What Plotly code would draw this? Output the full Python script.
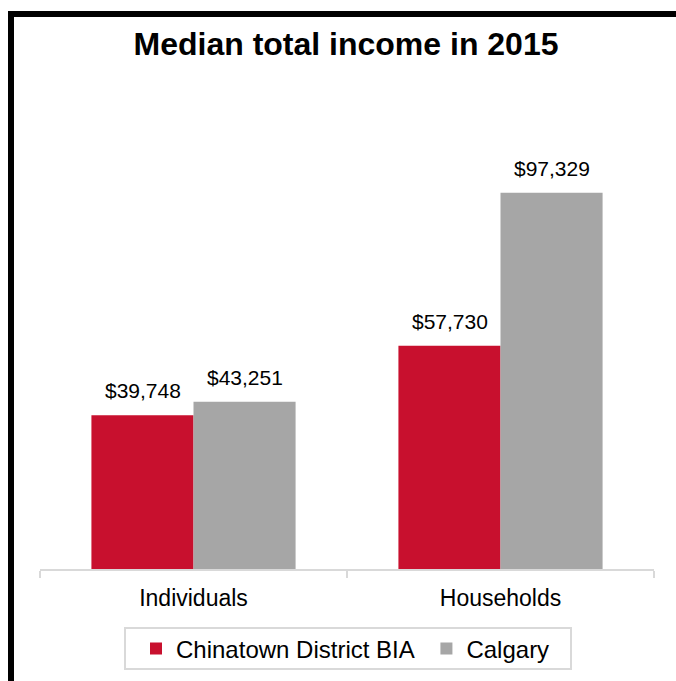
import plotly.graph_objects as go

categories = ["Individuals", "Households"]
series_names = ["Chinatown District BIA", "Calgary"]
chinatown_values = [39748, 57730]
calgary_values = [43251, 97329]
series_colors = ["#C8102E", "#A6A6A6"]
title_text = "Median total income in 2015"

FONT = "Liberation Sans, Arial, sans-serif"

fig = go.Figure()
for k, (name, vals, col) in enumerate(zip(series_names, [chinatown_values, calgary_values], series_colors)):
    label = name + ("&nbsp;" if k == 0 else "")
    fig.add_trace(go.Bar(
        x=categories, y=vals, name=label, marker=dict(color=col, line=dict(width=0)),
        hoverinfo="skip",
    ))

# data labels above bars
annotations = []
for i, vals in enumerate([chinatown_values, calgary_values]):
    shift = -51 if i == 0 else 51
    for cat, v in zip(categories, vals):
        annotations.append(dict(
            x=cat, y=v, xref="x", yref="y", text="${:,}".format(v),
            showarrow=False, xshift=shift, yanchor="bottom", yshift=11,
            font=dict(family=FONT, size=21, color="#000000"),
        ))

L, R, T, B = 40, 22, 105, 112
W, H = 676, 681
pw, ph = W - L - R, H - T - B

def px_x(x):
    return (x - L) / pw

def px_y(y):
    return (H - B - y) / ph

shapes = [
    # outer frame (left and top edges visible)
    dict(type="rect", xref="paper", yref="paper", x0=px_x(8), x1=px_x(14), y0=px_y(700), y1=px_y(11),
         fillcolor="#000000", line=dict(width=0), layer="above"),
    dict(type="rect", xref="paper", yref="paper", x0=px_x(8), x1=px_x(700), y0=px_y(17), y1=px_y(11),
         fillcolor="#000000", line=dict(width=0), layer="above"),
    # legend box
    dict(type="rect", xref="paper", yref="paper", x0=px_x(125), x1=px_x(571), y0=px_y(669), y1=px_y(628),
         fillcolor="rgba(0,0,0,0)", line=dict(color="#D9D9D9", width=2), layer="below"),
]

fig.update_layout(
    width=W, height=H,
    margin=dict(l=L, r=R, t=T, b=B, autoexpand=False),
    paper_bgcolor="#FFFFFF", plot_bgcolor="#FFFFFF",
    title=dict(text="<b>" + title_text + "</b>", x=px_x(346), xanchor="center", xref="paper",
               y=1 - 44 / H, yanchor="middle",
               font=dict(family=FONT, size=32, color="#000000")),
    barmode="group", bargap=0.335, bargroupgap=0,
    showlegend=True,
    legend=dict(orientation="h", x=px_x(136), xanchor="left", y=px_y(649), yanchor="middle",
                borderwidth=0, bgcolor="rgba(0,0,0,0)",
                font=dict(family=FONT, size=24, color="#000000"),
                itemclick=False, itemdoubleclick=False),
    annotations=annotations,
    shapes=shapes,
    font=dict(family=FONT),
)
fig.update_xaxes(
    showline=True, linecolor="#D9D9D9", linewidth=2,
    ticks="outside", tickson="boundaries", ticklen=7, tickcolor="#D9D9D9", tickwidth=2,
    ticklabelstandoff=7,
    tickfont=dict(family=FONT, size=23, color="#000000"),
    showgrid=False, fixedrange=True,
)
fig.update_yaxes(range=[0, 120000], visible=False, showgrid=False, fixedrange=True)

fig.write_html("out.html", config={"displayModeBar": False},
               post_script="document.body.style.margin='0';")
